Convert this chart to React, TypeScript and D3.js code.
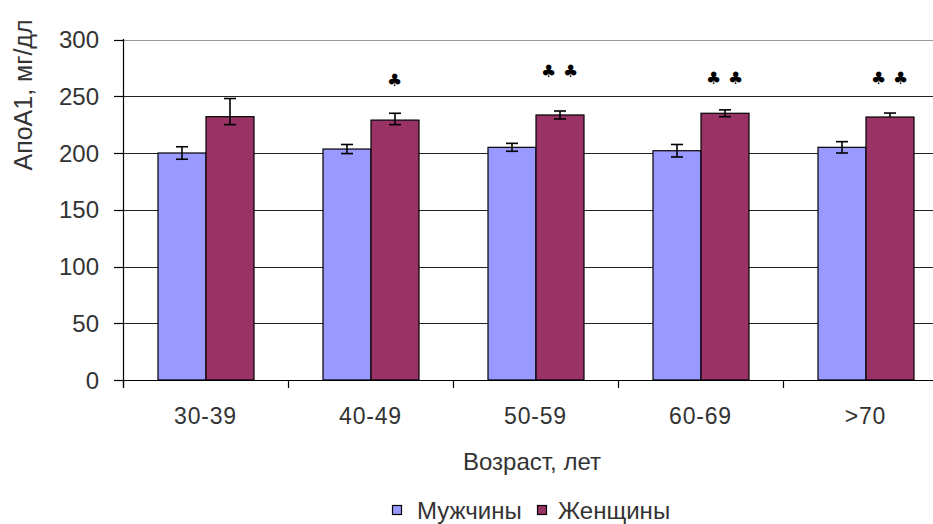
import React from "react";
import * as d3 from "d3";

const categories = ["30-39", "40-49", "50-59", "60-69", ">70"];
const seriesNames = ["Мужчины", "Женщины"];
const men = [200, 203.5, 205, 202, 205];
const menErr = [5.5, 4, 3.5, 5.5, 5];
const women = [232, 229, 233.5, 235, 231.7];
const womenErrPlus = [16, 6, 3.5, 3, 3.5];
const womenErrMinus = [7, 4, 3.5, 3, 0];
const starCounts = [0, 1, 2, 2, 2];
const starLevels = [0, 264.3, 272, 266, 266];
const yTicks = [0, 50, 100, 150, 200, 250, 300];

const W = 933;
const H = 524;
const colors = ["#9999FF", "#993366"];
const FONT = "'Liberation Sans', Arial, sans-serif";

export default function App() {
  const left = 123;
  const right = 948;
  const y = d3.scaleLinear().domain([0, 300]).range([380, 39.5]);
  const x = d3.scaleBand().domain(categories).range([left, right]).padding(0);
  const bw = x.bandwidth();
  const inner = d3
    .scaleBand()
    .domain(seriesNames)
    .range([(bw - 96) / 2, (bw + 96) / 2])
    .padding(0);
  const barW = inner.bandwidth();
  const values = [men, women];
  const errPlus = [menErr, womenErrPlus];
  const errMinus = [menErr, womenErrMinus];

  return (
    <svg
      width={W}
      height={H}
      style={{ position: "absolute", left: 0, top: 0, background: "#fff" }}
      fontFamily={FONT}
    >
      <rect x={0} y={0} width={W} height={H} fill="#fff" />
      {yTicks.filter((t) => t > 0).map((t) => (
        <line
          key={"g" + t}
          x1={left}
          x2={right}
          y1={Math.round(y(t)) + 0.5}
          y2={Math.round(y(t)) + 0.5}
          stroke={t === 300 ? "#999" : "#222"}
          strokeWidth={1}
        />
      ))}
      {categories.map((c, i) =>
        seriesNames.map((s, j) => {
          const bx = (x(c) as number) + (inner(s) as number);
          const v = values[j][i];
          return (
            <rect
              key={c + s}
              x={bx + 0.5}
              y={y(v)}
              width={barW}
              height={y(0) - y(v)}
              fill={colors[j]}
              stroke="#000"
              strokeWidth={1.2}
            />
          );
        })
      )}
      {categories.map((c, i) =>
        seriesNames.map((s, j) => {
          const cx = (x(c) as number) + (inner(s) as number) + barW / 2 + 0.5;
          const v = values[j][i];
          const top = y(v + errPlus[j][i]);
          const bot = y(v - errMinus[j][i]);
          return (
            <g key={"e" + c + s} stroke="#000" strokeWidth={1.6}>
              <line x1={cx} x2={cx} y1={top} y2={bot} />
              <line x1={cx - 6} x2={cx + 6} y1={top} y2={top} />
              {errMinus[j][i] > 0 && <line x1={cx - 6} x2={cx + 6} y1={bot} y2={bot} />}
            </g>
          );
        })
      )}
      {categories.map((c, i) => {
        const n = starCounts[i];
        if (!n) return null;
        const cx = (x(c) as number) + (inner("Женщины") as number) + barW / 2;
        const offs = n === 1 ? [0] : [-11, 11];
        return offs.map((o, k) => (
          <text
            key={"s" + c + k}
            x={cx + o}
            y={y(starLevels[i])}
            textAnchor="middle"
            dominantBaseline="central"
            fontSize={17}
            fontFamily="'DejaVu Sans', sans-serif"
            fill="#000"
          >
            ♣
          </text>
        ));
      })}
      <line x1={left + 0.5} x2={left + 0.5} y1={39} y2={388} stroke="#000" strokeWidth={1.2} />
      {yTicks.map((t) => (
        <g key={"yt" + t}>
          <line
            x1={114}
            x2={left}
            y1={Math.round(y(t)) + 0.5}
            y2={Math.round(y(t)) + 0.5}
            stroke="#000"
            strokeWidth={1.2}
          />
          <text
            x={99}
            y={y(t)}
            textAnchor="end"
            dominantBaseline="central"
            fontSize={24}
            fill="#333"
          >
            {t}
          </text>
        </g>
      ))}
      <line x1={left} x2={right} y1={380.5} y2={380.5} stroke="#000" strokeWidth={1.2} />
      {d3.range(categories.length + 1).map((k) => {
        const tx = left + k * bw;
        return (
          <line key={"xt" + k} x1={tx + 0.5} x2={tx + 0.5} y1={380} y2={388} stroke="#000" strokeWidth={1.2} />
        );
      })}
      {categories.map((c) => (
        <text
          key={"xl" + c}
          x={(x(c) as number) + bw / 2}
          y={424}
          textAnchor="middle"
          fontSize={23}
          letterSpacing={0.8}
          fill="#333"
        >
          {c}
        </text>
      ))}
      <text x={532} y={470} textAnchor="middle" fontSize={24} fill="#333">
        Возраст, лет
      </text>
      <text
        transform="translate(23,95) rotate(-90)"
        textAnchor="middle"
        dominantBaseline="central"
        fontSize={25}
        fill="#333"
      >
        АпоА1, мг/дл
      </text>
      {seriesNames.map((s, j) => {
        const lx = j === 0 ? 392 : 537;
        return (
          <g key={"lg" + s}>
            <rect x={lx + 0.5} y={505.5} width={9} height={9} fill={colors[j]} stroke="#000" strokeWidth={1.2} />
            <text x={lx + (j === 0 ? 25 : 21)} y={519} fontSize={24} fill="#333">
              {s}
            </text>
          </g>
        );
      })}
    </svg>
  );
}
